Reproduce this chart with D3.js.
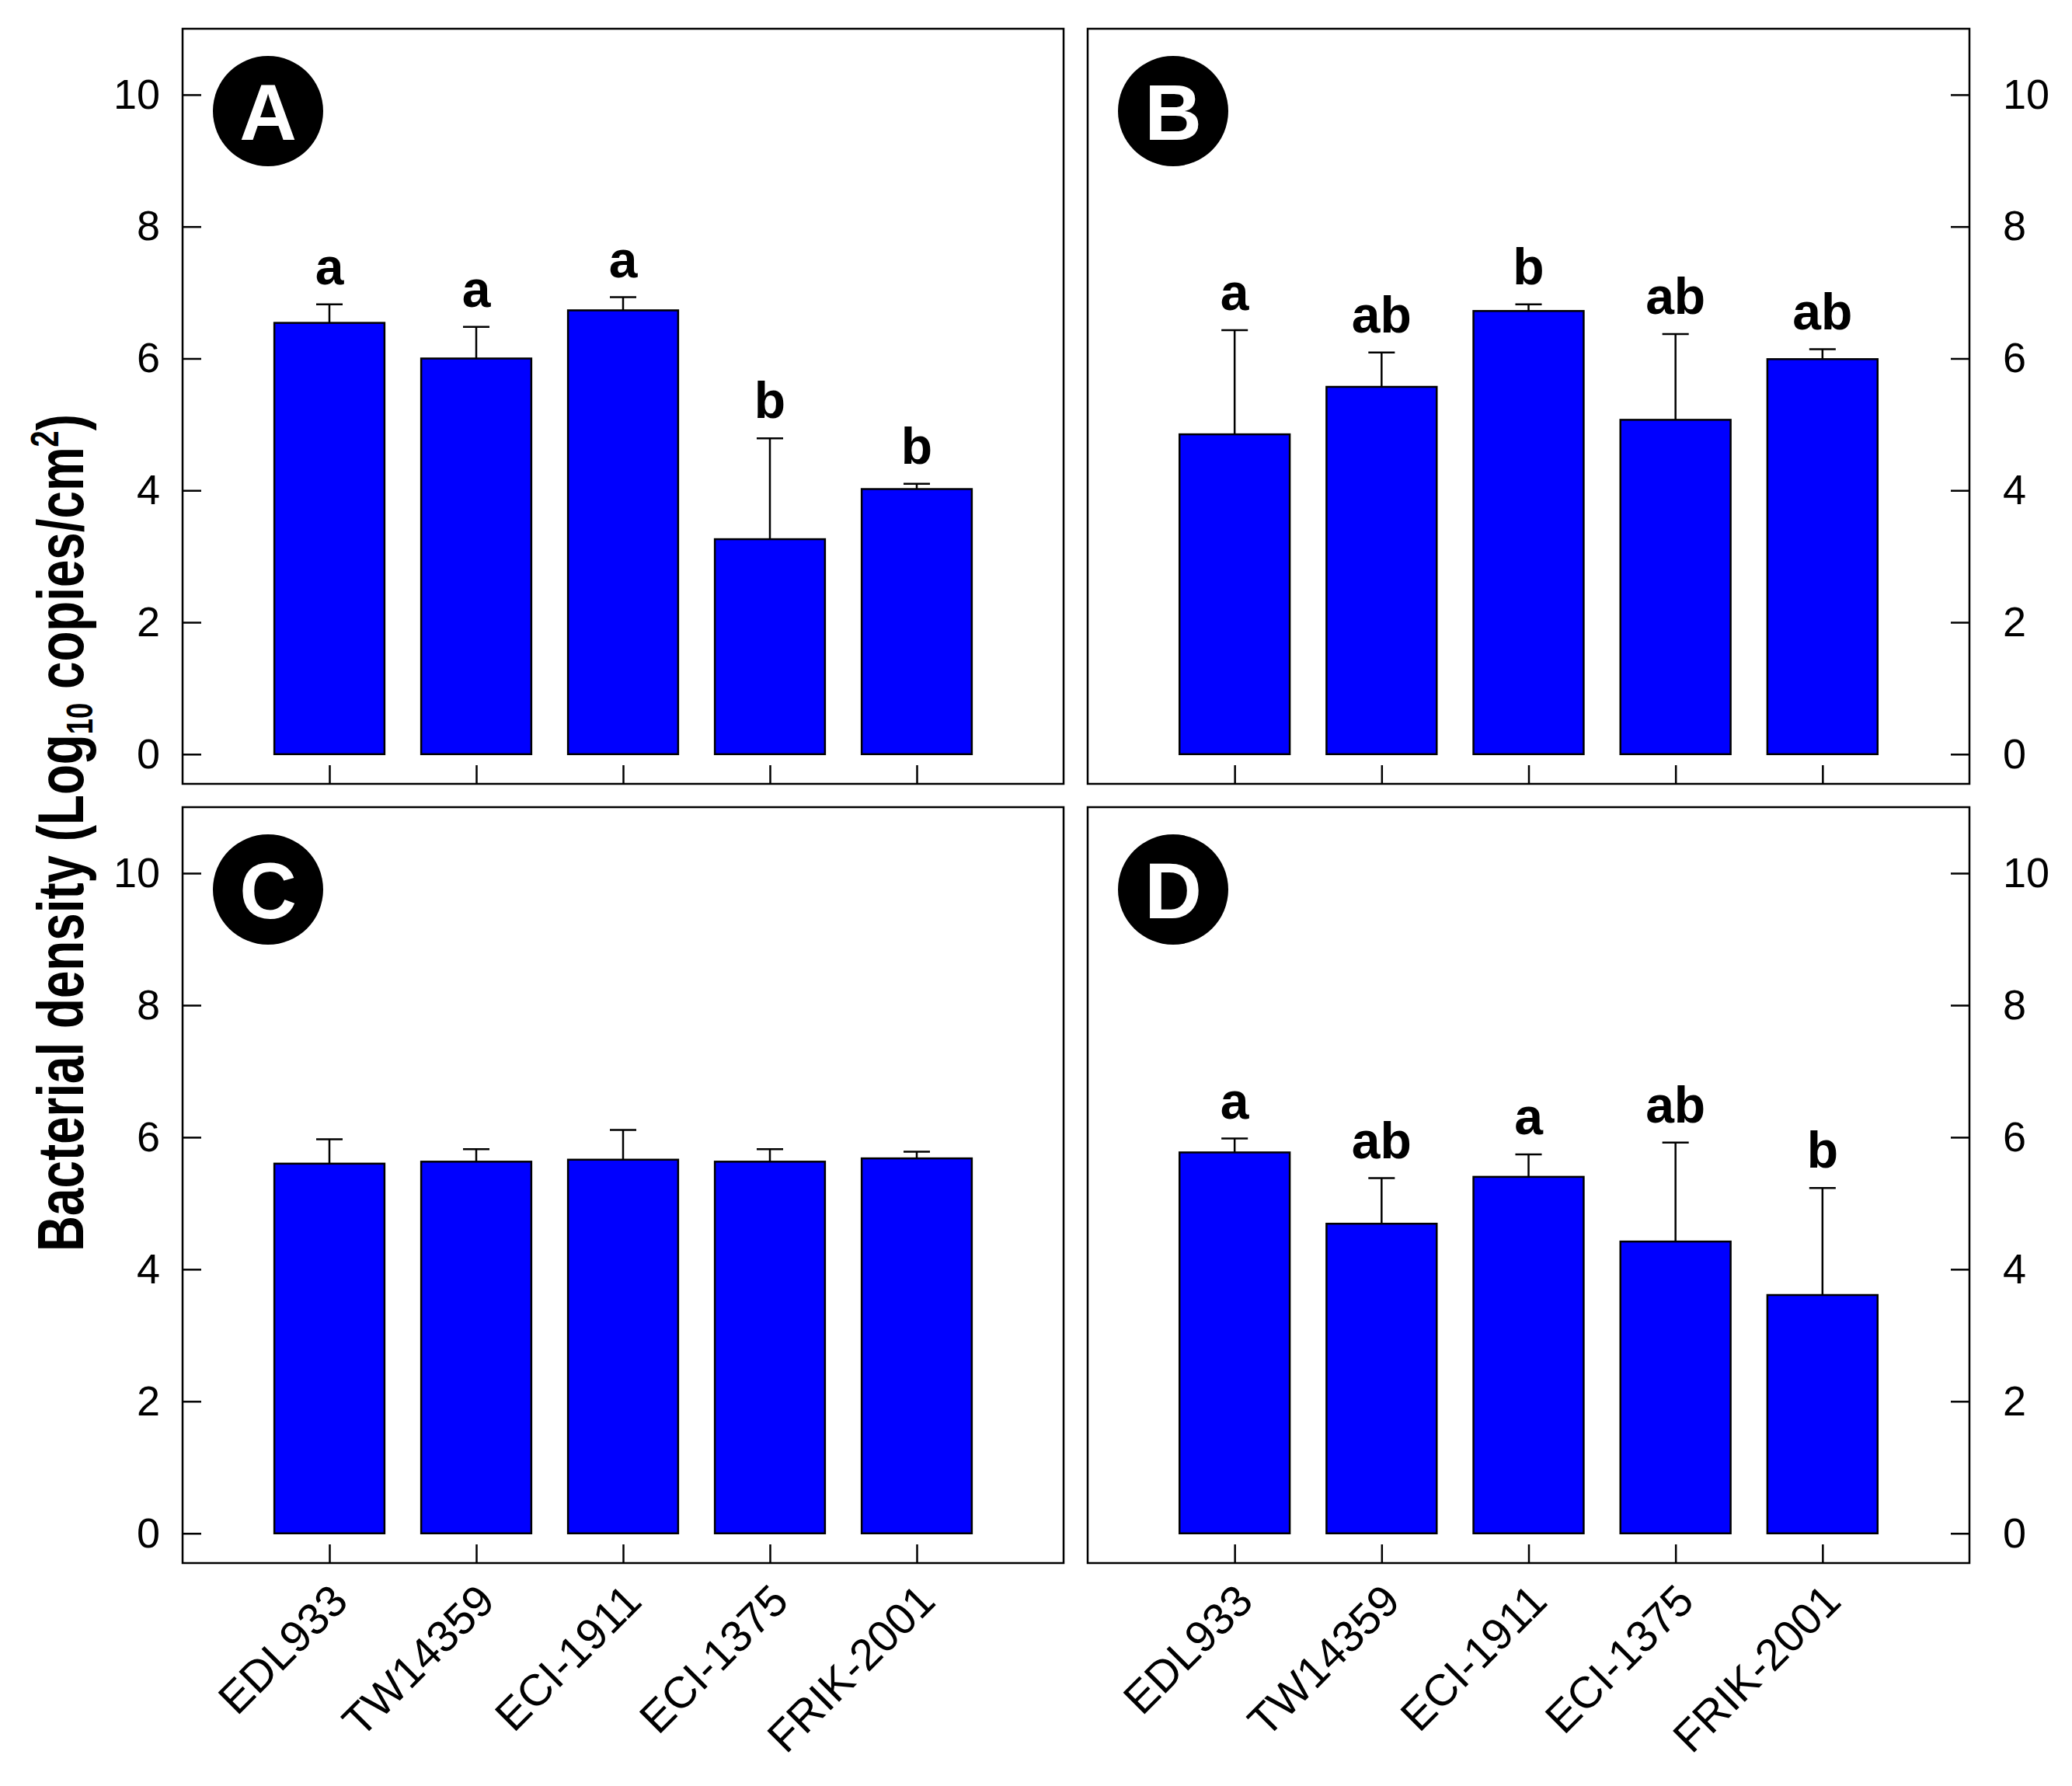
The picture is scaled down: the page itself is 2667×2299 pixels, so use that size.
<!DOCTYPE html>
<html>
<head>
<meta charset="utf-8">
<script src="https://cdn.jsdelivr.net/npm/d3@7"></script>
<style>
  body { margin: 0; background: #fff; }
  text { font-family: Arial, "Liberation Sans", sans-serif; }
</style>
</head>
<body>
<div id="chart"></div>
<script>
const WIDTH = 2667;
const HEIGHT = 2299;

// data
const strains = ['EDL933', 'TW14359', 'ECI-1911', 'ECI-1375', 'FRIK-2001'];
const yTicks = [0, 2, 4, 6, 8, 10];

const meanA = [6.54, 6.00, 6.73, 3.26, 4.02];
const errA  = [0.28, 0.48, 0.20, 1.53, 0.08];
const lettersA = ['a', 'a', 'a', 'b', 'b'];

const meanB = [4.85, 5.57, 6.72, 5.07, 5.99];
const errB  = [1.58, 0.52, 0.10, 1.30, 0.15];
const lettersB = ['a', 'ab', 'b', 'ab', 'ab'];

const meanC = [5.60, 5.63, 5.66, 5.63, 5.68];
const errC  = [0.37, 0.19, 0.45, 0.19, 0.10];
const lettersC = ['', '', '', '', ''];

const meanD = [5.77, 4.69, 5.40, 4.42, 3.61];
const errD  = [0.21, 0.69, 0.34, 1.50, 1.62];
const lettersD = ['a', 'ab', 'a', 'ab', 'b'];

const BAR_WIDTH = 0.75;      // in slot units
const CAP_HALF = 0.09;
const TICK_LEN = 24;
const FONT_TICK = 54;
const FONT_XLABEL = 57;
const FONT_LETTER = 66;

const panels = [
  { id: 'A', mean: meanA, err: errA, letters: lettersA, x0: 235,  x1: 1369, y0: 37,   y1: 1009, side: 'left',  labels: false },
  { id: 'B', mean: meanB, err: errB, letters: lettersB, x0: 1400, x1: 2535, y0: 37,   y1: 1009, side: 'right', labels: false },
  { id: 'C', mean: meanC, err: errC, letters: lettersC, x0: 235,  x1: 1369, y0: 1039, y1: 2012, side: 'left',  labels: true },
  { id: 'D', mean: meanD, err: errD, letters: lettersD, x0: 1400, x1: 2535, y0: 1039, y1: 2012, side: 'right', labels: true }
];

document.addEventListener('DOMContentLoaded', function() {
  drawChart();
});

function drawChart()
{
  var svg = d3.select('#chart').append('svg')
    .attr('width', WIDTH)
    .attr('height', HEIGHT);

  panels.forEach(function(p) { drawPanel(svg, p); });

  drawTitle(svg);
}

function drawPanel(svg, p)
{
  var x = d3.scaleLinear().domain([0, strains.length + 1]).range([p.x0, p.x1]);
  var y = d3.scaleLinear().domain([-0.45, 11]).range([p.y1, p.y0]);
  var g = svg.append('g');

  var data = strains.map(function(s, i) {
    return { name: s, pos: i + 1, mean: p.mean[i], top: p.mean[i] + p.err[i], letter: p.letters[i] };
  });

  // error bars (upper only)
  g.selectAll('line.err')
    .data(data)
    .enter()
    .append('line')
    .attr('x1', function(d) { return x(d.pos); })
    .attr('x2', function(d) { return x(d.pos); })
    .attr('y1', function(d) { return y(d.mean); })
    .attr('y2', function(d) { return y(d.top); })
    .style('stroke', 'black')
    .style('stroke-width', 2.5);

  g.selectAll('line.cap')
    .data(data)
    .enter()
    .append('line')
    .attr('x1', function(d) { return x(d.pos - CAP_HALF); })
    .attr('x2', function(d) { return x(d.pos + CAP_HALF); })
    .attr('y1', function(d) { return y(d.top); })
    .attr('y2', function(d) { return y(d.top); })
    .style('stroke', 'black')
    .style('stroke-width', 2.5);

  g.selectAll('rect.bar')
    .data(data)
    .enter()
    .append('rect')
    .attr('x', function(d) { return x(d.pos - BAR_WIDTH / 2); })
    .attr('width', x(BAR_WIDTH) - x(0))
    .attr('y', function(d) { return y(d.mean); })
    .attr('height', function(d) { return y(0) - y(d.mean); })
    .style('fill', '#0000ff')
    .style('stroke', 'black')
    .style('stroke-width', 2.5);

  g.selectAll('text.letter')
    .data(data)
    .enter()
    .append('text')
    .attr('x', function(d) { return x(d.pos); })
    .attr('y', function(d) { return y(d.top) - 26; })
    .attr('text-anchor', 'middle')
    .style('font-size', FONT_LETTER + 'px')
    .style('font-weight', 'bold')
    .text(function(d) { return d.letter; });

  // frame
  g.append('rect')
    .attr('x', p.x0)
    .attr('y', p.y0)
    .attr('width', p.x1 - p.x0)
    .attr('height', p.y1 - p.y0)
    .style('fill', 'none')
    .style('stroke', 'black')
    .style('stroke-width', 2.5);

  // y axis
  var yAxis = (p.side == 'left' ? d3.axisLeft(y) : d3.axisRight(y))
    .tickValues(yTicks)
    .tickSize(-TICK_LEN)
    .tickPadding(p.side == 'left' ? 29 : 43);

  var ya = g.append('g')
    .attr('transform', 'translate(' + (p.side == 'left' ? p.x0 : p.x1) + ',0)')
    .call(yAxis);
  styleAxis(ya, FONT_TICK);

  // x axis
  var xAxis = d3.axisBottom(x)
    .tickValues(data.map(function(d) { return d.pos; }))
    .tickSize(-TICK_LEN)
    .tickFormat(function(v) { return p.labels ? strains[v - 1] : ''; });

  var xa = g.append('g')
    .attr('transform', 'translate(0,' + p.y1 + ')')
    .call(xAxis);
  styleAxis(xa, FONT_XLABEL);
  xa.selectAll('text')
    .attr('x', 0)
    .attr('y', 0)
    .attr('dy', '0.35em')
    .attr('text-anchor', 'end')
    .attr('transform', 'translate(12,38) rotate(-45)');

  // panel badge
  var cx = p.x0 + 110;
  var cy = p.y0 + 106;
  g.append('circle')
    .attr('cx', cx)
    .attr('cy', cy)
    .attr('r', 71)
    .style('fill', 'black');
  g.append('text')
    .attr('x', cx)
    .attr('y', cy + 0.358 * 102)
    .attr('text-anchor', 'middle')
    .style('font-size', '102px')
    .style('font-weight', 'bold')
    .style('fill', 'white')
    .text(p.id);
}

function styleAxis(a, size)
{
  a.select('.domain').remove();
  a.selectAll('.tick line')
    .style('stroke', 'black')
    .style('stroke-width', 2.5);
  a.selectAll('.tick text')
    .style('font-size', size + 'px')
    .style('font-family', 'Arial, "Liberation Sans", sans-serif')
    .style('fill', 'black');
}

function drawTitle(svg)
{
  var g = svg.append('g')
    .attr('transform', 'translate(107,1072) rotate(-90)');
  var inner = g.append('g');
  var t = inner.append('text')
    .attr('text-anchor', 'middle')
    .style('font-size', '84px')
    .style('font-weight', 'bold');
  t.append('tspan').text('Bacterial density (Log');
  t.append('tspan').attr('dy', 12).style('font-size', '48px').text('10');
  t.append('tspan').attr('dy', -12).text(' copies/cm');
  t.append('tspan').attr('dy', -32).style('font-size', '50px').text('2');
  t.append('tspan').attr('dy', 32).text(')');

  var len = t.node().getComputedTextLength();
  inner.attr('transform', 'scale(' + (1078 / len) + ',1)');
}
</script>
</body>
</html>
